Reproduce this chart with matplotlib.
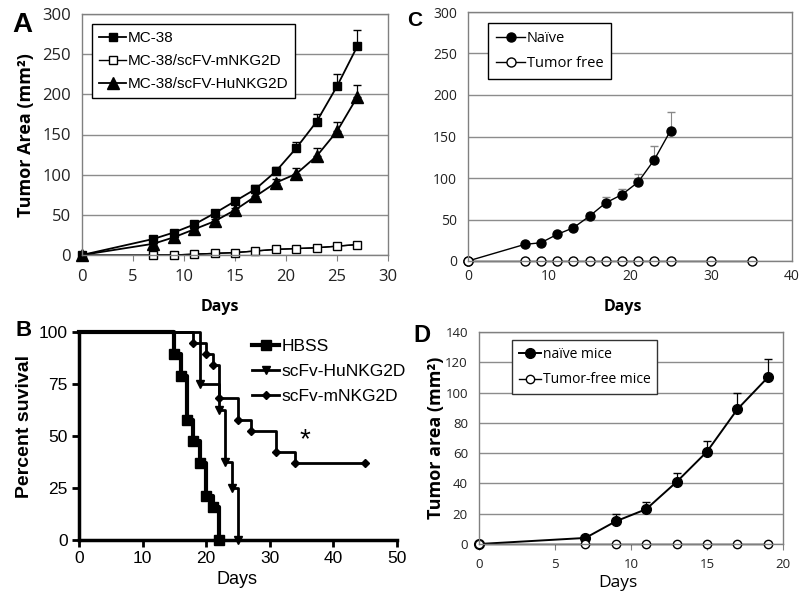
import numpy as np
import matplotlib.pyplot as plt

# panel A: tumor growth
a_days = [0, 7, 9, 11, 13, 15, 17, 19, 21, 23, 25, 27]
a_mc38 = [0, 20, 28, 38, 52, 67, 82, 104, 133, 166, 210, 260]
a_mc38_err = [0, 2, 2, 3, 3, 3, 5, 6, 8, 10, 15, 20]
a_mnkg = [0, 0, 0, 1, 2, 3, 5, 7, 8, 9, 11, 13]
a_hunkg = [0, 14, 22, 32, 42, 56, 73, 90, 101, 123, 154, 197]
a_hunkg_err = [0, 2, 2, 2, 3, 3, 4, 5, 7, 10, 11, 15]

# panel B: survival
b_hbss_t = [0, 15, 16, 17, 18, 19, 20, 21, 22]
b_hbss_s = [100, 89.5, 78.9, 57.9, 47.4, 36.8, 21.1, 15.8, 0]
b_hu_t = [0, 19, 22, 23, 24, 25]
b_hu_s = [100, 75, 62.5, 37.5, 25, 0]
b_m_t = [0, 18, 20, 21, 22, 25, 27, 31, 34, 45]
b_m_s = [100, 94.7, 89.5, 84.2, 68.4, 57.9, 52.6, 42.1, 36.8, 36.8]

# panel C: rechallenge
c_naive_days = [0, 7, 9, 11, 13, 15, 17, 19, 21, 23, 25]
c_naive = [0, 20, 22, 32, 40, 54, 70, 80, 95, 122, 157]
c_naive_err = [0, 2, 2, 3, 3, 4, 7, 7, 10, 17, 22]
c_free_days = [0, 7, 9, 11, 13, 15, 17, 19, 21, 23, 25, 30, 35]
c_free = [0] * 13

# panel D: rechallenge 2
d_days = [0, 7, 9, 11, 13, 15, 17, 19]
d_naive = [0, 4, 15, 23, 41, 61, 89, 110]
d_naive_err = [0, 1, 5, 5, 6, 7, 11, 12]
d_free = [0] * 8

W, H = 800, 598
fig = plt.figure(figsize=(8, 5.98), dpi=100)


def rect(l, r, t, b):
    return [l / W, 1 - b / H, (r - l) / W, (b - t) / H]


def excel_style(ax, yticks, xticks, fs):
    for s in ax.spines.values():
        s.set_color('#808080')
        s.set_linewidth(1.0)
    ax.set_yticks(yticks)
    ax.set_xticks(xticks)
    ax.yaxis.grid(True, color='#8c8c8c', linewidth=1.0)
    ax.set_axisbelow(True)
    ax.tick_params(axis='y', length=0, pad=8, labelsize=fs, colors='#222222')
    ax.tick_params(axis='x', length=4, direction='out', color='#808080',
                   pad=6, labelsize=fs, labelcolor='#222222')
    for lab in ax.get_xticklabels() + ax.get_yticklabels():
        lab.set_family('Open Sans')


def up(e):
    return [np.zeros(len(e)), e]


# ---- A
axA = fig.add_axes(rect(82, 388, 14, 255))
excel_style(axA, range(0, 301, 50), range(0, 31, 5), 12)
axA.set_xlim(0, 30)
axA.set_ylim(0, 300)
axA.errorbar(a_days, a_mc38, yerr=up(a_mc38_err), fmt='none', ecolor='black',
             capsize=3, elinewidth=0.9, clip_on=False)
axA.errorbar(a_days, a_hunkg, yerr=up(a_hunkg_err), fmt='none', ecolor='black',
             capsize=3, elinewidth=0.9, clip_on=False)
axA.plot(a_days, a_mc38, color='black', marker='s', ms=6, lw=1.3, label='MC-38', clip_on=False)
axA.plot(a_days, [0] + a_mnkg[1:], color='black', lw=1.0, clip_on=False)
axA.plot(a_days[1:], a_mnkg[1:], color='black', marker='s', ms=6, mfc='white', lw=1.0,
         label='MC-38/scFV-mNKG2D', clip_on=False)
axA.plot(a_days, a_hunkg, color='black', marker='^', ms=8, lw=1.3,
         label='MC-38/scFV-HuNKG2D', clip_on=False)
legA = axA.legend(loc='upper left', bbox_to_anchor=(10 / 306, 1 - 10 / 241), borderaxespad=0,
                  fancybox=False, edgecolor='black', framealpha=1,
                  prop={'family': 'Liberation Sans', 'size': 11},
                  handlelength=1.8, handletextpad=0.1, borderpad=0.45, labelspacing=0.6)
legA.get_frame().set_linewidth(1.0)
fig.text(26 / W, 1 - 135 / H, 'Tumor Area (mm²)', rotation=90, ha='center', va='center',
         fontsize=13, fontweight='bold', family='Open Sans')
fig.text(220 / W, 1 - 307 / H, 'Days', ha='center', va='center', fontsize=11.5,
         fontweight='bold', family='Open Sans')
fig.text(22 / W, 1 - 25 / H, 'A', ha='center', va='center', fontsize=20,
         fontweight='bold', family='Liberation Sans')

# ---- C
axC = fig.add_axes(rect(468, 792, 12, 261))
excel_style(axC, range(0, 301, 50), range(0, 41, 10), 10)
axC.tick_params(axis='x', length=0)
axC.set_xlim(0, 40)
axC.set_ylim(0, 300)
axC.errorbar(c_naive_days, c_naive, yerr=up(c_naive_err), fmt='none', ecolor='#888888',
             capsize=3, elinewidth=0.8, clip_on=False)
axC.plot(c_naive_days, c_naive, color='black', marker='o', ms=6.5, lw=1.0,
         label='Naïve', clip_on=False)
axC.plot(c_free_days, c_free, color='black', marker='o', ms=6.5, mfc='white', lw=1.0,
         label='Tumor free', clip_on=False)
legC = axC.legend(loc='upper left', bbox_to_anchor=(20 / 324, 1 - 11 / 249), borderaxespad=0,
                  fancybox=False, edgecolor='black', framealpha=1,
                  prop={'family': 'Open Sans', 'size': 10.5},
                  handlelength=2.0, handletextpad=0.1, borderpad=0.55, labelspacing=0.7)
fig.text(623 / W, 1 - 307 / H, 'Days', ha='center', va='center', fontsize=11.5,
         fontweight='bold', family='Open Sans')
fig.text(415 / W, 1 - 20 / H, 'C', ha='center', va='center', fontsize=15,
         fontweight='bold', family='Liberation Sans')

# ---- B
axB = fig.add_axes(rect(79, 397, 332, 540))
for s in ['top', 'right']:
    axB.spines[s].set_visible(False)
for s in ['left', 'bottom']:
    axB.spines[s].set_linewidth(2.5)
axB.set_xlim(0, 50)
axB.set_ylim(0, 100)
axB.set_xticks(range(0, 51, 10))
axB.set_yticks([0, 25, 50, 75, 100])
axB.tick_params(width=2, length=5, labelsize=12.5, pad=3)
for lab in axB.get_xticklabels() + axB.get_yticklabels():
    lab.set_family('Liberation Sans')
axB.step(b_hbss_t, b_hbss_s, where='post', color='black', lw=3, marker='s', ms=7,
         markevery=slice(1, None), label='HBSS', clip_on=False, zorder=4)
axB.step(b_hu_t, b_hu_s, where='post', color='black', lw=2, marker='v', ms=6,
         markevery=slice(1, None), label='scFv-HuNKG2D', clip_on=False, zorder=3)
axB.step(b_m_t, b_m_s, where='post', color='black', lw=2, marker='D', ms=4.5,
         markevery=slice(1, None), label='scFv-mNKG2D', clip_on=False, zorder=3)
axB.text(35.5, 48, '*', ha='center', va='center', fontsize=20, family='Liberation Sans')
axB.legend(loc='upper left', bbox_to_anchor=(157 / 318, 1.04), frameon=False,
           prop={'family': 'Liberation Sans', 'size': 12.5}, handlelength=1.6,
           handletextpad=0.1, labelspacing=0.55)
fig.text(25 / W, 1 - 426 / H, 'Percent suvival', rotation=90, ha='center', va='center',
         fontsize=14, fontweight='bold', family='Liberation Sans')
fig.text(237 / W, 1 - 579 / H, 'Days', ha='center', va='center', fontsize=13,
         family='Liberation Sans')
fig.text(24 / W, 1 - 331 / H, 'B', ha='center', va='center', fontsize=16,
         fontweight='bold', family='Liberation Sans')

# ---- D
axD = fig.add_axes(rect(479, 783, 332, 544))
excel_style(axD, range(0, 141, 20), range(0, 21, 5), 9.5)
axD.set_xlim(0, 20)
axD.set_ylim(0, 140)
axD.errorbar(d_days, d_naive, yerr=up(d_naive_err), fmt='none', ecolor='black',
             capsize=3, elinewidth=0.9, clip_on=False)
axD.plot(d_days, d_naive, color='black', marker='o', ms=7, lw=1.4,
         label='naïve mice', clip_on=False)
axD.plot(d_days, d_free, color='black', marker='o', ms=6, mfc='white', lw=1.0,
         label='Tumor-free mice', clip_on=False)
legD = axD.legend(loc='upper left', bbox_to_anchor=(33 / 304, 1 - 8 / 212), borderaxespad=0,
                  fancybox=False, edgecolor='#333333', framealpha=1,
                  prop={'family': 'Open Sans', 'size': 10},
                  handlelength=1.6, handletextpad=0.1, borderpad=0.5, labelspacing=0.75)
fig.text(436 / W, 1 - 438 / H, 'Tumor area (mm²)', rotation=90, ha='center', va='center',
         fontsize=13, fontweight='bold', family='Open Sans')
fig.text(618 / W, 1 - 583 / H, 'Days', ha='center', va='center', fontsize=12.5,
         family='Open Sans')
fig.text(422 / W, 1 - 336 / H, 'D', ha='center', va='center', fontsize=17,
         fontweight='bold', family='Liberation Sans')

fig.savefig('out.png', dpi=100)
